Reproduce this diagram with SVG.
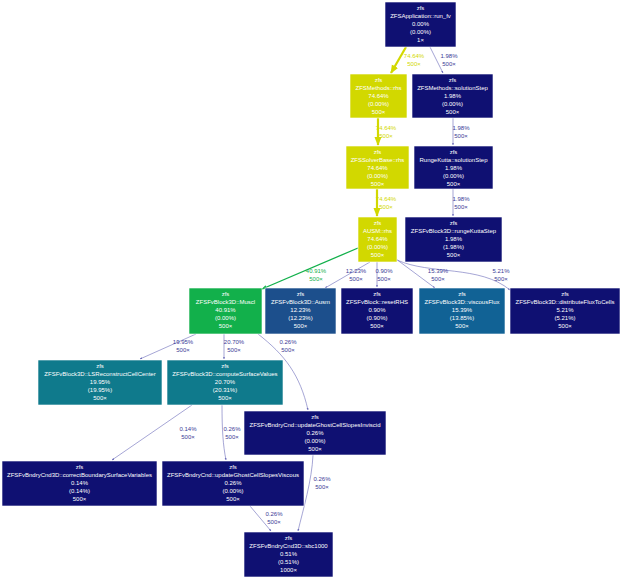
<svg xmlns="http://www.w3.org/2000/svg" width="624" height="580" viewBox="0 0 624 580">
<style>
text{font-family:"Liberation Sans",Arial,sans-serif;font-size:6px;text-anchor:middle}
.n text{fill:#fff}
.n rect{stroke:#fff;stroke-width:0.6}
.e path{fill:none}
.nv{fill:#0f1072}.yl{fill:#d2d800}.gr{fill:#12b04b}.bl{fill:#1c4f8c}.tl{fill:#0f7a8c}.vf{fill:#116295}
.l{font-size:6px}
</style>
<defs>
<marker id="a" viewBox="0 0 10 10" refX="9" refY="5" markerWidth="4" markerHeight="4" orient="auto"><path d="M0,1L10,5L0,9z" fill="context-stroke"/></marker>
</defs>
<g class="e">
<g stroke="#d2d800" fill="#d2d800">
<path d="M406,47L391,73" stroke-width="2.2" marker-end="url(#a)" fill="none"/>
<path d="M378,118L378,145" stroke-width="2.2" marker-end="url(#a)" fill="none"/>
<path d="M377,189L377,216" stroke-width="2.2" marker-end="url(#a)" fill="none"/>
</g>
<g fill="#d2d800" stroke="none"><text x="414" y="58">74.64%</text><text x="414" y="66">500×</text>
<text x="386" y="130">74.64%</text><text x="386" y="138">500×</text>
<text x="386" y="201">74.64%</text><text x="386" y="209">500×</text></g>
<path d="M358,248L262,289" stroke="#12b04b" stroke-width="1.3" marker-end="url(#a)"/>
<text x="316" y="273" fill="#12b04b">40.91%</text><text x="316" y="281" fill="#12b04b">500×</text>
<g stroke="#6a6ab8" stroke-width="0.6">
<path d="M430,47L443,73" marker-end="url(#a)"/>
<path d="M453,118L453,145" marker-end="url(#a)"/>
<path d="M453,189L453,216" marker-end="url(#a)"/>
<path d="M370,262L325,288" marker-end="url(#a)"/>
<path d="M377,262L377,287" marker-end="url(#a)"/>
<path d="M396,259L435,288" marker-end="url(#a)"/>
<path d="M397,260C430,275 480,265 510,290" marker-end="url(#a)"/>
<path d="M196,334L140,359" marker-end="url(#a)"/>
<path d="M224,334L224,359" marker-end="url(#a)"/>
<path d="M258,334C285,355 300,375 308,410" marker-end="url(#a)"/>
<path d="M192,405L112,460" marker-end="url(#a)"/>
<path d="M222,405C222,430 223,445 226,460" marker-end="url(#a)"/>
<path d="M313,455C312,480 303,510 298,531" marker-end="url(#a)"/>
<path d="M250,506L271,531" marker-end="url(#a)"/>
</g>
<g fill="#3a3a96">
<text x="449" y="58">1.98%</text><text x="449" y="66">500×</text>
<text x="461" y="130">1.98%</text><text x="461" y="138">500×</text>
<text x="461" y="201">1.98%</text><text x="461" y="209">500×</text>
<text x="356" y="273">12.23%</text><text x="356" y="281">500×</text>
<text x="384" y="273">0.90%</text><text x="384" y="281">500×</text>
<text x="438" y="273">15.39%</text><text x="438" y="281">500×</text>
<text x="501" y="273">5.21%</text><text x="501" y="281">500×</text>
<text x="183" y="344">19.95%</text><text x="183" y="352">500×</text>
<text x="234" y="344">20.70%</text><text x="234" y="352">500×</text>
<text x="288" y="344">0.26%</text><text x="288" y="352">500×</text>
<text x="188" y="431">0.14%</text><text x="188" y="439">500×</text>
<text x="232" y="431">0.26%</text><text x="232" y="439">500×</text>
<text x="322" y="481">0.26%</text><text x="322" y="489">500×</text>
<text x="274" y="516">0.26%</text><text x="274" y="524">500×</text>
</g>
</g>
<g class="n">
<g id="run_fv"><rect class="nv" x="385" y="2" width="71" height="45"/><text x="420.5" y="10">zfs</text><text x="420.5" y="18">ZFSApplication::run_fv</text><text x="420.5" y="26">0.00%</text><text x="420.5" y="34">(0.00%)</text><text x="420.5" y="42">1×</text></g>
<g id="m_rhs"><rect class="yl" x="350" y="74" width="57" height="44"/><text x="378.5" y="82">zfs</text><text x="378.5" y="90">ZFSMethods::rhs</text><text x="378.5" y="98">74.64%</text><text x="378.5" y="106">(0.00%)</text><text x="378.5" y="114">500×</text></g>
<g id="m_ss"><rect class="nv" x="412" y="74" width="81" height="44"/><text x="452.5" y="82">zfs</text><text x="452.5" y="90">ZFSMethods::solutionStep</text><text x="452.5" y="98">1.98%</text><text x="452.5" y="106">(0.00%)</text><text x="452.5" y="114">500×</text></g>
<g id="sb_rhs"><rect class="yl" x="346" y="146" width="63" height="43"/><text x="377.5" y="154">zfs</text><text x="377.5" y="162">ZFSSolverBase::rhs</text><text x="377.5" y="170">74.64%</text><text x="377.5" y="178">(0.00%)</text><text x="377.5" y="186">500×</text></g>
<g id="rk_ss"><rect class="nv" x="414" y="146" width="79" height="43"/><text x="453.5" y="154">zfs</text><text x="453.5" y="162">RungeKutta::solutionStep</text><text x="453.5" y="170">1.98%</text><text x="453.5" y="178">(0.00%)</text><text x="453.5" y="186">500×</text></g>
<g id="ausm_rhs"><rect class="yl" x="358" y="217" width="39" height="45"/><text x="377.5" y="225">zfs</text><text x="377.5" y="233">AUSM::rhs</text><text x="377.5" y="241">74.64%</text><text x="377.5" y="249">(0.00%)</text><text x="377.5" y="257">500×</text></g>
<g id="rks"><rect class="nv" x="405" y="217" width="97" height="45"/><text x="453.5" y="225">zfs</text><text x="453.5" y="233">ZFSFvBlock3D::rungeKuttaStep</text><text x="453.5" y="241">1.98%</text><text x="453.5" y="249">(1.98%)</text><text x="453.5" y="257">500×</text></g>
<g id="muscl"><rect class="gr" x="189" y="288" width="73" height="46"/><text x="225.5" y="296">zfs</text><text x="225.5" y="304">ZFSFvBlock3D::Muscl</text><text x="225.5" y="312">40.91%</text><text x="225.5" y="320">(0.00%)</text><text x="225.5" y="328">500×</text></g>
<g id="ausm"><rect class="bl" x="265" y="288" width="71" height="46"/><text x="300.5" y="296">zfs</text><text x="300.5" y="304">ZFSFvBlock3D::Ausm</text><text x="300.5" y="312">12.23%</text><text x="300.5" y="320">(12.23%)</text><text x="300.5" y="328">500×</text></g>
<g id="reset"><rect class="nv" x="341" y="288" width="72" height="46"/><text x="377" y="296">zfs</text><text x="377" y="304">ZFSFvBlock::resetRHS</text><text x="377" y="312">0.90%</text><text x="377" y="320">(0.90%)</text><text x="377" y="328">500×</text></g>
<g id="visc"><rect class="vf" x="419" y="288" width="86" height="46"/><text x="462" y="296">zfs</text><text x="462" y="304">ZFSFvBlock3D::viscousFlux</text><text x="462" y="312">15.39%</text><text x="462" y="320">(13.85%)</text><text x="462" y="328">500×</text></g>
<g id="dist"><rect class="nv" x="510" y="288" width="110" height="46"/><text x="565" y="296">zfs</text><text x="565" y="304">ZFSFvBlock3D::distributeFluxToCells</text><text x="565" y="312">5.21%</text><text x="565" y="320">(5.21%)</text><text x="565" y="328">500×</text></g>
<g id="ls"><rect class="tl" x="38" y="360" width="124" height="45"/><text x="100" y="368">zfs</text><text x="100" y="376">ZFSFvBlock3D::LSReconstructCellCenter</text><text x="100" y="384">19.95%</text><text x="100" y="392">(19.95%)</text><text x="100" y="400">500×</text></g>
<g id="csv"><rect class="tl" x="167" y="360" width="116" height="45"/><text x="225" y="368">zfs</text><text x="225" y="376">ZFSFvBlock3D::computeSurfaceValues</text><text x="225" y="384">20.70%</text><text x="225" y="392">(20.31%)</text><text x="225" y="400">500×</text></g>
<g id="inv"><rect class="nv" x="244" y="411" width="142" height="44"/><text x="315" y="419">zfs</text><text x="315" y="427">ZFSFvBndryCnd::updateGhostCellSlopesInviscid</text><text x="315" y="435">0.26%</text><text x="315" y="443">(0.00%)</text><text x="315" y="451">500×</text></g>
<g id="cbsv"><rect class="nv" x="2" y="461" width="155" height="45"/><text x="79.5" y="469">zfs</text><text x="79.5" y="477">ZFSFvBndryCnd3D::correctBoundarySurfaceVariables</text><text x="79.5" y="485">0.14%</text><text x="79.5" y="493">(0.14%)</text><text x="79.5" y="501">500×</text></g>
<g id="vis"><rect class="nv" x="162" y="461" width="142" height="45"/><text x="233" y="469">zfs</text><text x="233" y="477">ZFSFvBndryCnd::updateGhostCellSlopesViscous</text><text x="233" y="485">0.26%</text><text x="233" y="493">(0.00%)</text><text x="233" y="501">500×</text></g>
<g id="sbc"><rect class="nv" x="244" y="532" width="89" height="45"/><text x="288.5" y="540">zfs</text><text x="288.5" y="548">ZFSFvBndryCnd3D::sbc1000</text><text x="288.5" y="556">0.51%</text><text x="288.5" y="564">(0.51%)</text><text x="288.5" y="572">1000×</text></g>
</g>
</svg>
